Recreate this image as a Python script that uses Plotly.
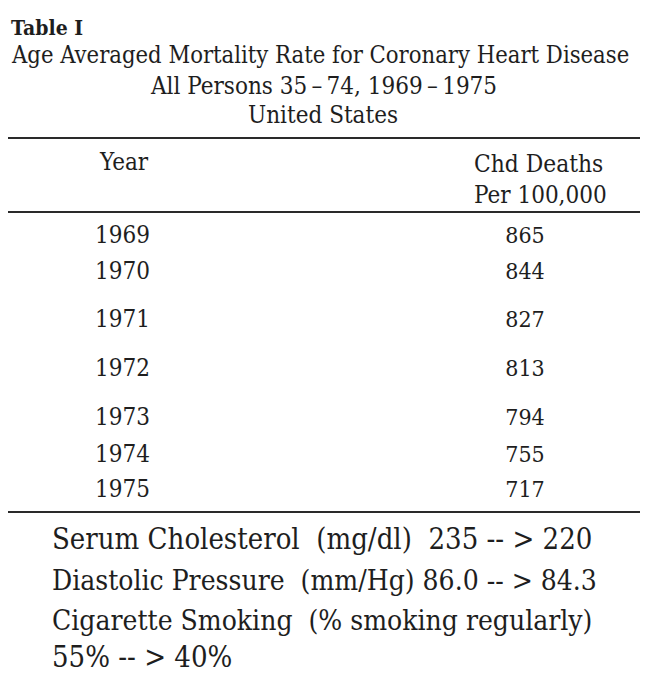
import plotly.graph_objects as go

# ---- data ----
years = ["1969", "1970", "1971", "1972", "1973", "1974", "1975"]
chd_deaths = [865, 844, 827, 813, 794, 755, 717]

title_lines = [
    "Table I",
    "Age Averaged Mortality Rate for Coronary Heart Disease",
    "All Persons 35\u2009\u2013\u200974, 1969\u2009\u2013\u20091975",
    "United States",
]
col_headers = ["Year", "Chd Deaths", "Per 100,000"]
notes = [
    "Serum Cholesterol  (mg/dl)  235 -- > 220",
    "Diastolic Pressure  (mm/Hg) 86.0 -- > 84.3",
    "Cigarette Smoking  (% smoking regularly)",
    "55% -- > 40%",
]

# ---- layout constants (pixel space of the 650x684 page; body has 8px margin) ----
W, H, M = 650, 684, 8
FONT = "DejaVu Serif Condensed, Liberation Serif, serif"
INK = "#1e1e1e"
row_y = [237, 273, 321, 370, 419, 456, 491]

fig = go.Figure()

fig.add_trace(go.Scatter(
    x=[95] * len(years), y=row_y, text=years, mode="text",
    textposition="middle right", textfont=dict(family=FONT, size=24, color=INK),
    hoverinfo="skip", showlegend=False))
fig.add_trace(go.Scatter(
    x=[525] * len(chd_deaths), y=row_y, text=[str(v) for v in chd_deaths], mode="text",
    textposition="middle center", textfont=dict(family=FONT, size=23, color=INK),
    hoverinfo="skip", showlegend=False))

ann = []
def txt(s, x, y, size, anchor="left", bold=False):
    ann.append(dict(text=f"<b>{s}</b>" if bold else s, x=x, y=y, xref="x", yref="y",
                    xanchor=anchor, yanchor="middle", showarrow=False,
                    font=dict(family=FONT, size=size, color=INK)))

txt(title_lines[0], 9, 27, 21, bold=True)
txt(title_lines[1], 9, 55, 23.6)
txt(title_lines[2], 323, 86, 24, anchor="center")
txt(title_lines[3], 323, 115, 24, anchor="center")
txt(col_headers[0], 97, 162, 24)
txt(col_headers[1], 472, 163, 24.3)
txt(col_headers[2], 472, 195, 24)
for s, y, sz in zip(notes, [539, 580, 620, 657], [29, 28, 28, 29]):
    txt(s, 50, y, sz)

shapes = [dict(type="line", x0=5, x1=640, y0=y, y1=y, xref="x", yref="y",
               line=dict(color="#2a2a2a", width=2)) for y in (138, 212, 512)]

fig.update_layout(
    width=W - M, height=H - M, margin=dict(l=0, r=0, t=0, b=0),
    paper_bgcolor="white", plot_bgcolor="white",
    xaxis=dict(range=[M, W], visible=False, fixedrange=True),
    yaxis=dict(range=[H, M], visible=False, fixedrange=True),
    annotations=ann, shapes=shapes,
)
fig.write_html("out.html", config={"displayModeBar": False})
